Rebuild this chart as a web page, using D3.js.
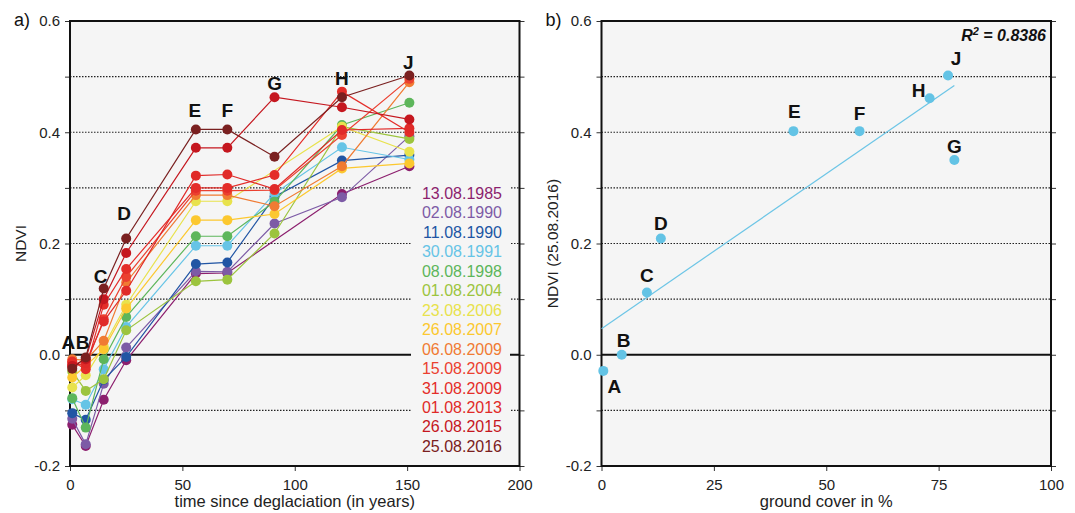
<!DOCTYPE html>
<html>
<head>
<meta charset="utf-8">
<script src="https://cdn.jsdelivr.net/npm/d3@7"></script>
<style>
    body { margin: 0; background: #fff; }
    svg { font-family: "Liberation Sans", Arial, sans-serif; }
</style>
</head>
<body>
<div id="chart"></div>
<script>
// stations along the glacier foreland
const stations = ['A', 'B', 'C', 'D', 'E', 'F', 'G', 'H', 'J'];
const stationAge = [1, 7, 15, 25, 56, 70, 91, 121, 151];

// acquisition dates (legend order) and their colours
const dates = [
    '13.08.1985', '02.08.1990', '11.08.1990', '30.08.1991', '08.08.1998',
    '01.08.2004', '23.08.2006', '26.08.2007', '06.08.2009', '15.08.2009',
    '31.08.2009', '01.08.2013', '26.08.2015', '25.08.2016'
];
const dateColors = [
    '#8c1f6e', '#7d5ba6', '#2155a4', '#66c4e6', '#5db65b',
    '#9cc43e', '#e8e24c', '#fcc82f', '#f07b33', '#eb4030',
    '#e42d29', '#e02a28', '#c5171f', '#7a2020'
];

// NDVI per date, one value per station (null = no value)
const ndviValues = [
    [-0.126, -0.164, -0.081, -0.010, 0.146, 0.147, null, 0.289, 0.339],
    [-0.115, -0.161, -0.052, 0.013, 0.150, 0.149, 0.236, 0.283, 0.393],
    [-0.105, -0.117, -0.045, -0.004, 0.163, 0.166, 0.284, 0.349, 0.359],
    [-0.080, -0.090, -0.026, 0.050, 0.196, 0.196, 0.290, 0.373, 0.351],
    [-0.078, -0.131, -0.008, 0.068, 0.213, 0.213, 0.275, 0.413, 0.453],
    [-0.030, -0.065, -0.044, 0.044, 0.132, 0.135, 0.218, 0.410, 0.388],
    [-0.059, -0.037, 0.015, 0.090, 0.276, 0.276, null, 0.410, 0.365],
    [-0.041, -0.020, 0.010, 0.083, 0.242, 0.242, 0.253, 0.335, 0.344],
    [-0.008, -0.010, 0.025, 0.130, 0.287, 0.287, 0.267, 0.339, 0.490],
    [-0.015, -0.020, 0.064, 0.140, 0.295, 0.295, 0.296, 0.395, 0.496],
    [-0.012, -0.026, 0.090, 0.154, 0.300, 0.300, 0.323, 0.473, 0.400],
    [-0.020, -0.015, 0.060, 0.115, 0.322, 0.324, 0.298, 0.404, 0.407],
    [-0.020, -0.008, 0.100, 0.183, 0.372, 0.372, 0.463, 0.445, 0.423],
    [-0.025, -0.005, 0.119, 0.209, 0.405, 0.405, 0.356, 0.463, 0.502]
];

// panel b: ground cover vs NDVI of 25.08.2016
const groundCover = [0.4, 4.5, 10.1, 13.2, 42.7, 57.4, 78.5, 73.0, 77.1];
const ndvi2016 = [-0.029, 0.0, 0.112, 0.209, 0.402, 0.402, 0.350, 0.461, 0.502];

const ndviTicks = [-0.2, -0.1, 0, 0.1, 0.2, 0.3, 0.4, 0.5, 0.6];
const ageTicks = [0, 50, 100, 150, 200];
const coverTicks = [0, 25, 50, 75, 100];

const W = 1075;
const H = 513;
const TOP = 21;
const BOTTOM = 466;
const BG = '#f5f5f5';

const svg = d3.select('#chart').append('svg').attr('width', W).attr('height', H);

const yScale = d3.scaleLinear().domain([-0.2, 0.6]).range([BOTTOM, TOP]);

// background, grid, frame and axes of one panel
const drawFrame = (g, x, y, xTicks, title, xTitle, yTitle) => {
    const [x0, x1] = x.range();

    g.append('rect')
        .attr('x', x0)
        .attr('y', TOP)
        .attr('width', x1 - x0)
        .attr('height', BOTTOM - TOP)
        .attr('fill', BG);

    // dotted grid lines
    g.selectAll('line.grid')
        .data(ndviTicks.filter((d) => d !== 0 && d !== -0.2 && d !== 0.6))
        .enter()
        .append('line')
        .attr('class', 'grid')
        .attr('x1', x0)
        .attr('x2', x1)
        .attr('y1', (d) => y(d))
        .attr('y2', (d) => y(d))
        .attr('stroke', '#222')
        .attr('stroke-width', 1.2)
        .attr('stroke-dasharray', '1.5,1.5');

    // zero line
    g.append('line')
        .attr('class', 'zero')
        .attr('x1', x0)
        .attr('x2', x1)
        .attr('y1', y(0))
        .attr('y2', y(0))
        .attr('stroke', '#111')
        .attr('stroke-width', 2);

    const left = g.append('g')
        .attr('transform', `translate(${x0}, 0)`)
        .call(
            d3.axisLeft(y)
                .tickValues(ndviTicks)
                .tickSize(5)
                .tickSizeOuter(0)
                .tickPadding(5)
                .tickFormat((d) => (Math.round(d * 10) % 2 === 0 ? d.toFixed(1) : ''))
        );

    const right = g.append('g')
        .attr('transform', `translate(${x1}, 0)`)
        .call(d3.axisRight(y).tickValues(ndviTicks).tickSize(5).tickSizeOuter(0).tickFormat(''));

    const bottom = g.append('g')
        .attr('transform', `translate(0, ${BOTTOM})`)
        .call(d3.axisBottom(x).tickValues(xTicks).tickSize(5).tickSizeOuter(0).tickPadding(8));

    [left, right, bottom].forEach((ax) => {
        ax.select('.domain').remove();
        ax.selectAll('line').attr('stroke', '#333');
        ax.selectAll('text').attr('fill', '#222').style('font-size', '15px');
    });

    // frame
    g.append('rect')
        .attr('x', x0)
        .attr('y', TOP)
        .attr('width', x1 - x0)
        .attr('height', BOTTOM - TOP)
        .attr('fill', 'none')
        .attr('stroke', '#111')
        .attr('stroke-width', 2);

    g.append('text')
        .attr('x', x0 - 56)
        .attr('y', 26)
        .style('font-size', '18px')
        .attr('fill', '#111')
        .text(title);

    g.append('text')
        .attr('x', (x0 + x1) / 2)
        .attr('y', 507)
        .attr('text-anchor', 'middle')
        .style('font-size', '16.5px')
        .attr('fill', '#222')
        .text(xTitle);

    g.append('text')
        .attr('transform', `translate(${x0 - 44}, ${(TOP + BOTTOM) / 2}) rotate(-90)`)
        .attr('text-anchor', 'middle')
        .style('font-size', '15.5px')
        .attr('fill', '#222')
        .text(yTitle);
};

// ---------- panel a ----------
const xAge = d3.scaleLinear().domain([0, 200]).range([70, 519.5]);
const gA = svg.append('g');
drawFrame(gA, xAge, yScale, ageTicks, 'a)', 'time since deglaciation (in years)', 'NDVI');

// legend box hides the grid behind it
const legendX = 502;
const legendTop = 199;
const legendStep = 19.45;
gA.append('rect')
    .attr('x', 411)
    .attr('y', 180)
    .attr('width', 99)
    .attr('height', 278)
    .attr('fill', BG);

const line = d3
    .line()
    .x((d) => xAge(d.age))
    .y((d) => yScale(d.v));

dates.forEach((date, i) => {
    const pts = ndviValues[i]
        .map((v, j) => ({ age: stationAge[j], v }))
        .filter((d) => d.v !== null);
    const s = gA.append('g');
    s.append('path')
        .datum(pts)
        .attr('fill', 'none')
        .attr('stroke', dateColors[i])
        .attr('stroke-width', 1.2)
        .attr('d', line);
    s.selectAll('circle')
        .data(pts)
        .enter()
        .append('circle')
        .attr('cx', (d) => xAge(d.age))
        .attr('cy', (d) => yScale(d.v))
        .attr('r', 5)
        .attr('fill', dateColors[i]);
});

// legend entries
gA.selectAll('text.legend')
    .data(dates)
    .enter()
    .append('text')
    .attr('class', 'legend')
    .attr('x', legendX)
    .attr('y', (d, i) => legendTop + i * legendStep)
    .attr('text-anchor', 'end')
    .style('font-size', '16px')
    .attr('fill', (d, i) => dateColors[i])
    .text((d) => d);

// station letters sit above the highest point of each station
const gapA = { A: 10, B: 9, C: 6, D: 18, E: 12, F: 12, G: 7, H: 7, J: 7 };
const shiftA = { A: -4, B: -3, C: -3, D: -2, E: -1, F: 0, G: 0, H: 0, J: -1 };
gA.selectAll('text.station')
    .data(stations)
    .enter()
    .append('text')
    .attr('class', 'station')
    .attr('x', (d, j) => xAge(stationAge[j]) + shiftA[d])
    .attr('y', (d, j) => yScale(d3.max(ndviValues, (row) => row[j])) - gapA[d])
    .attr('text-anchor', 'middle')
    .style('font-size', '19px')
    .style('font-weight', 'bold')
    .attr('fill', '#111')
    .text((d) => d);

// ---------- panel b ----------
const xCover = d3.scaleLinear().domain([0, 100]).range([601.5, 1051]);
const gB = svg.append('g');
drawFrame(gB, xCover, yScale, coverTicks, 'b)', 'ground cover in %', 'NDVI (25.08.2016)');

// least squares fit
const mx = d3.mean(groundCover);
const my = d3.mean(ndvi2016);
const sxy = d3.sum(groundCover, (g, i) => (g - mx) * (ndvi2016[i] - my));
const sxx = d3.sum(groundCover, (g) => (g - mx) ** 2);
const slope = sxy / sxx;
const intercept = my - slope * mx;
const cMax = d3.max(groundCover);

gB.append('line')
    .attr('x1', xCover(0))
    .attr('y1', yScale(intercept))
    .attr('x2', xCover(cMax))
    .attr('y2', yScale(intercept + slope * cMax))
    .attr('stroke', '#6cc5e6')
    .attr('stroke-width', 1.2);

gB.selectAll('circle')
    .data(groundCover)
    .enter()
    .append('circle')
    .attr('cx', (d) => xCover(d))
    .attr('cy', (d, i) => yScale(ndvi2016[i]))
    .attr('r', 5)
    .attr('fill', '#63c3e5');

// label offsets [dx, dy] relative to the point
const offsetB = {
    A: [11, 22], B: [2, -8], C: [0, -10], D: [0, -8], E: [1, -13],
    F: [0, -11], G: [0, -7], H: [-11, -1], J: [8, -11]
};
gB.selectAll('text.station')
    .data(stations)
    .enter()
    .append('text')
    .attr('class', 'station')
    .attr('x', (d, i) => xCover(groundCover[i]) + offsetB[d][0])
    .attr('y', (d, i) => yScale(ndvi2016[i]) + offsetB[d][1])
    .attr('text-anchor', 'middle')
    .style('font-size', '19px')
    .style('font-weight', 'bold')
    .attr('fill', '#111')
    .text((d) => d);

const r2 = gB.append('text')
    .attr('x', 1046)
    .attr('y', 41)
    .attr('text-anchor', 'end')
    .style('font-size', '16px')
    .style('font-weight', 'bold')
    .style('font-style', 'italic')
    .attr('fill', '#111');
r2.append('tspan').text('R');
r2.append('tspan').attr('dy', -6).style('font-size', '11px').text('2');
r2.append('tspan').attr('dy', 6).text(' = 0.8386');
</script>
</body>
</html>
